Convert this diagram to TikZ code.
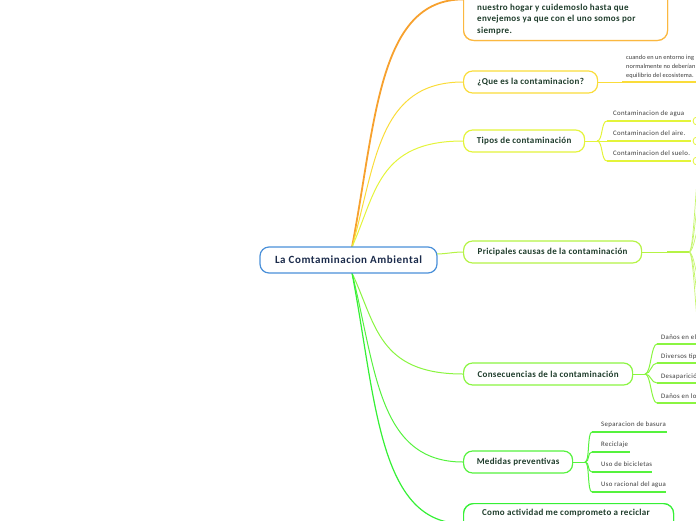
\documentclass[tikz,border=0pt]{standalone}
\usepackage{fontspec}
\setmainfont{Carlito}
\definecolor{corange}{HTML}{F7A12E}
\definecolor{corangebox}{HTML}{FBB840}
\definecolor{cyellow}{HTML}{FADC3A}
\definecolor{climey}{HTML}{E4F43A}
\definecolor{clime}{HTML}{B5F345}
\definecolor{cgreena}{HTML}{8AF541}
\definecolor{cgreenb}{HTML}{55F23E}
\definecolor{cgreenc}{HTML}{35F035}
\definecolor{cblue}{HTML}{4A90D9}
\definecolor{cnavy}{HTML}{1B2B4B}
\definecolor{cdark}{HTML}{1F3D2C}
\definecolor{cchild}{HTML}{3A3A3A}
\tikzset{
  mainbox/.style={draw, line width=1.2pt, fill=white, rounded corners=9pt,
    minimum height=22pt, inner sep=0pt, anchor=west, text=cdark,
    font=\bfseries\fontsize{9}{11}\selectfont\addfontfeatures{LetterSpace=3.5}},
  childtext/.style={anchor=base west, inner sep=0pt, text=cchild,
    font=\fontsize{6.8}{8}\selectfont\addfontfeatures{LetterSpace=5}},
  smalltext/.style={anchor=base west, inner sep=0pt, text=cchild,
    font=\fontsize{6.3}{7.5}\selectfont\addfontfeatures{LetterSpace=1.5}},
  conn/.style={line width=1pt},
  uline/.style={line width=1.8pt},
}
\begin{document}
\begin{tikzpicture}[x=1pt,y=-1pt]
\useasboundingbox (0,0) rectangle (696,520);
\clip (0,0) rectangle (696,520);

% ---------- connectors from the central node ----------
\coordinate (ctop) at (352,247);
\coordinate (cbot) at (352,273);
\coordinate (cright) at (436,254);

% ---------- nodes ----------
\node (ob) [draw=corangebox, line width=1.2pt, fill=white, rounded corners=10pt,
  minimum width=204pt, minimum height=82pt, anchor=south west, inner sep=0pt] at (463,41) {};
\node (q) [mainbox, draw=cyellow, minimum width=134pt] at (463,82) {¿Que es la contaminacion?};
\node (t) [mainbox, draw=climey, minimum width=121pt] at (463,141) {Tipos de contaminación};
\node (p) [mainbox, draw=clime, minimum width=178pt] at (463,252) {Pricipales causas de la contaminación};
\node (cs) [mainbox, draw=cgreena, minimum width=169pt] at (463,374) {Consecuencias de la contaminación};
\node (m) [mainbox, draw=cgreenb, minimum width=109pt] at (463,462) {Medidas preventivas};
\node (ca) [draw=cgreenc, line width=1.2pt, fill=white, rounded corners=10pt,
  minimum width=210pt, minimum height=40pt, anchor=north west, inner sep=0pt] at (463,503) {};

\draw[corange, line width=1.8pt] (ctop) .. controls +(24,-125) and +(-85,0) .. (ob.west);
\draw[cyellow, conn] (ctop) .. controls +(24,-84) and +(-85,0) .. (q.west);
\draw[climey, conn] (ctop) .. controls +(24,-54) and +(-85,0) .. (t.west);
\draw[clime, conn] (cright) .. controls +(10,0) and +(-10,0) .. (p.west);
\draw[cgreena, conn] (cbot) .. controls +(24,51) and +(-85,0) .. (cs.west);
\draw[cgreenb, conn] (cbot) .. controls +(24,96) and +(-85,0) .. (m.west);
\draw[cgreenc, line width=1.2pt] (cbot) .. controls +(24,125) and +(-85,0) .. (ca.west);

% redraw boxes on top of connectors
\node [draw=corangebox, line width=1.2pt, fill=white, rounded corners=10pt,
  minimum width=204pt, minimum height=82pt, anchor=south west, inner sep=0pt] at (463,41) {};
\node [draw=cgreenc, line width=1.2pt, fill=white, rounded corners=10pt,
  minimum width=210pt, minimum height=40pt, anchor=north west, inner sep=0pt] at (463,503) {};

\node (c) [draw=cblue, line width=1.2pt, fill=white, rounded corners=9pt,
  minimum width=177pt, minimum height=26pt, inner sep=0pt, text=cnavy,
  font=\bfseries\fontsize{11}{13}\selectfont\addfontfeatures{LetterSpace=5}] at (348.5,260) {La Comtaminacion Ambiental};

\node (obt) [anchor=north west, align=left, inner sep=0pt, text=cdark,
  font=\bfseries\fontsize{9}{11.5}\selectfont\addfontfeatures{LetterSpace=3.5}] at (477,3.5)
  {nuestro hogar y cuidemoslo hasta que\\envejemos ya que con el uno somos por\\siempre.};
\node (cat) [inner sep=0pt, text=cdark, font=\bfseries\fontsize{9}{11}\selectfont\addfontfeatures{LetterSpace=3.5}]
  at (566,513) {Como actividad me comprometo a reciclar};

% ---------- ¿Que es la contaminacion? ----------
\coordinate (qu) at (622,82);
\coordinate (qe) at (700,82);
\draw[cyellow, conn] (q.east) -- (qu);
\draw[cyellow, uline] (qu) -- (qe);
\node (q1) [smalltext] at (626,59.5) {cuando en un entorno ing};
\node (q2) [smalltext] at (626,68.5) {normalmente no deberían};
\node (q3) [smalltext] at (626,77.5) {equilibrio del ecosistema.};

% ---------- Tipos de contaminación ----------
\coordinate (tf) at (597,141);
\coordinate (ta) at (607,121);
\coordinate (tb) at (607,141);
\coordinate (tc) at (607,161);
\coordinate (tae) at (691,121);
\coordinate (tbe) at (691,141);
\coordinate (tce) at (691,161);
\draw[climey, conn] (t.east) -- (tf);
\draw[climey, conn] (tf) .. controls +(6,0) and +(-6,0) .. (ta);
\draw[climey, conn] (tf) -- (tb);
\draw[climey, conn] (tf) .. controls +(6,0) and +(-6,0) .. (tc);
\draw[climey, uline] (ta) -- (tae);
\draw[climey, uline] (tb) -- (tbe);
\draw[climey, uline] (tc) -- (tce);
\draw[climey, line width=0.8pt] (697,121) circle (4);
\draw[climey, line width=0.8pt] (697,141) circle (4);
\draw[climey, line width=0.8pt] (697,161) circle (4);
\node (t1) [childtext] at (613,115.5) {Contaminacion de agua};
\node (t2) [childtext] at (613,135) {Contaminacion del aire.};
\node (t3) [childtext] at (613,155) {Contaminacion del suelo.};

% ---------- Pricipales causas ----------
\coordinate (pa) at (667,252);
\coordinate (pf) at (689,252);
\draw[clime, conn] (p.east) -- (pa);
\draw[clime, uline] (pa) -- (pf);
\foreach \yy in {170,200,228,278,300,330} {
  \draw[clime!80, line width=0.7pt] (pf) .. controls +(5,0) and +(-3,0) .. (699,\yy);
}

% ---------- Consecuencias ----------
\coordinate (csf) at (645,374);
\coordinate (cs1) at (657,344);
\coordinate (cs2) at (657,363);
\coordinate (cs3) at (657,383);
\coordinate (cs4) at (657,403);
\draw[cgreena, conn] (cs.east) -- (csf);
\foreach \n in {cs1,cs2,cs3,cs4} {
  \draw[cgreena, conn] (csf) .. controls +(6,0) and +(-6,0) .. (\n);
  \draw[cgreena, uline] (\n) -- ++(45,0);
}
\node (c1) [childtext] at (661,339.5) {Daños en el};
\node (c2) [childtext] at (661,358.5) {Diversos tipos};
\node (c3) [childtext] at (661,378.5) {Desaparición};
\node (c4) [childtext] at (661,398.5) {Daños en los};

% ---------- Medidas preventivas ----------
\coordinate (mf) at (585,462);
\coordinate (m1) at (592,432);
\coordinate (m2) at (592,452);
\coordinate (m3) at (592,472);
\coordinate (m4) at (592,492);
\draw[cgreenb, conn] (m.east) -- (mf);
\foreach \n in {m1,m2,m3,m4} {
  \draw[cgreenb, conn] (mf) .. controls +(5,0) and +(-5,0) .. (\n);
}
\draw[cgreenb, uline] (m1) -- (667,432);
\draw[cgreenb, uline] (m2) -- (630,452);
\draw[cgreenb, uline] (m3) -- (652,472);
\draw[cgreenb, uline] (m4) -- (666,492);
\node (mm1) [childtext] at (601,426.5) {Separacion de basura};
\node (mm2) [childtext] at (601,446.5) {Reciclaje};
\node (mm3) [childtext] at (601,466.5) {Uso de bicicletas};
\node (mm4) [childtext] at (601,486.5) {Uso racional del agua};
\end{tikzpicture}
\end{document}
